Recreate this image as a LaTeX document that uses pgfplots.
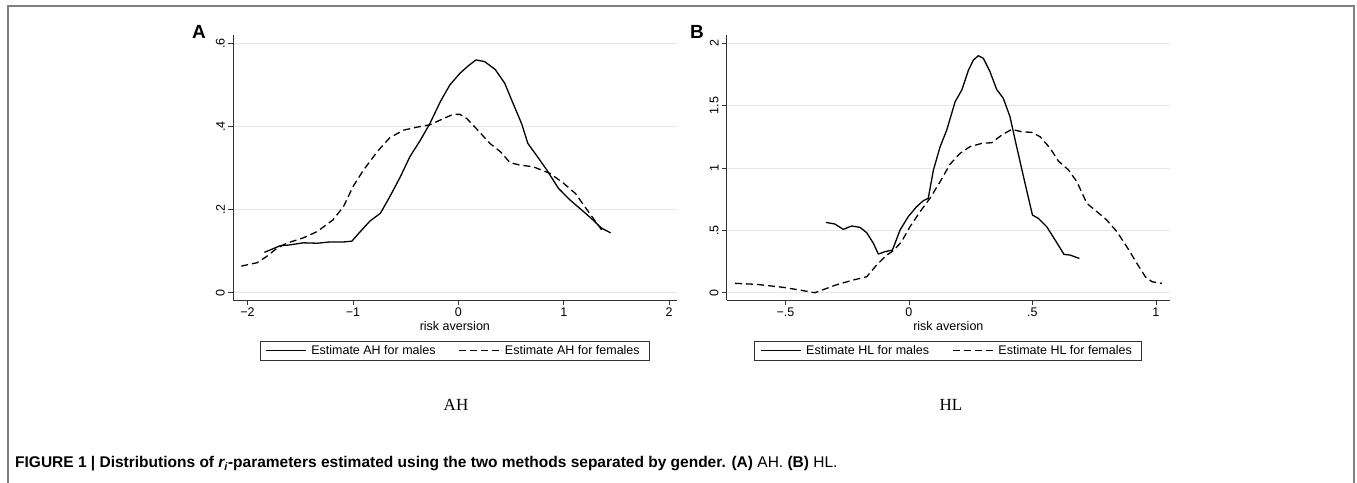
\documentclass[border=0pt]{standalone}
\usepackage{fontspec}
\setmainfont{Liberation Sans}
\newfontfamily\timesfont{Liberation Serif}
\usepackage{pgfplots}
\pgfplotsset{compat=1.18}
\definecolor{gridc}{HTML}{E6E6E6}
\definecolor{axc}{HTML}{333333}
\definecolor{framec}{HTML}{7F7F7F}

\pgfplotsset{
  stata/.style={
    scale only axis,
    axis x line*=bottom, axis y line*=left,
    axis line style={-, draw=axc, line width=0.9pt},
    tick align=outside, major tick length=5pt,
    tick style={draw=axc, line width=0.8pt},
    ymajorgrids, grid style={draw=gridc, line width=1pt},
    ticklabel style={font=\fontsize{12.5}{15}\selectfont},
    yticklabel style={rotate=90, anchor=south, inner sep=3pt},
    xticklabel style={inner sep=2pt, yshift=-1pt},
    xlabel={risk aversion},
    xlabel style={font=\fontsize{12.5}{15}\selectfont, inner sep=0pt, yshift=-2pt},
    legend columns=2,
    legend style={at={(0.5,-0.1547)}, anchor=north, draw=axc, line width=0.8pt,
      font=\fontsize{12.5}{15}\selectfont, inner xsep=5pt, inner ysep=2pt,
      /tikz/every even column/.append style={column sep=18pt},
      nodes={inner xsep=5pt}},
    legend image code/.code={\draw[#1] (0pt,0pt) -- (40pt,0pt);},
  },
  male/.style={black, no marks, line width=1.3pt, line join=round},
  fem/.style={black, no marks, line width=1.3pt, line join=round, dash pattern=on 7pt off 4pt},
}

\begin{document}
\begin{tikzpicture}[x=1pt,y=1pt]
\path[use as bounding box] (0,0) rectangle (1357,482);
\draw[framec, line width=1.3pt] (8,-2) -- (8,476) -- (1354,476) -- (1354,-2);

% Panel A
\begin{axis}[stata, at={(233pt,182pt)}, anchor=south west,
  width=443.7pt, height=265pt,
  xmin=-2.138, xmax=2.072, ymin=-0.0176, ymax=0.62,
  xtick={-2,-1,0,1,2}, xticklabels={−2,−1,0,1,2},
  ytick={0,0.2,0.4,0.6}, yticklabels={0,.2,.4,.6}]
\addplot[male] coordinates {
(-1.84,0.097) (-1.69,0.113) (-1.60,0.115) (-1.47,0.120) (-1.34,0.119)
(-1.22,0.122) (-1.09,0.122) (-1.01,0.124) (-0.93,0.147) (-0.84,0.172)
(-0.74,0.191) (-0.65,0.231) (-0.55,0.279) (-0.46,0.327) (-0.36,0.367)
(-0.27,0.407) (-0.17,0.460) (-0.08,0.500) (0.016,0.528) (0.095,0.546)
(0.168,0.560) (0.25,0.556) (0.35,0.537) (0.44,0.504) (0.52,0.455)
(0.60,0.407) (0.66,0.359) (0.74,0.331) (0.84,0.295) (0.95,0.251)
(1.06,0.223) (1.17,0.199) (1.26,0.179) (1.36,0.155) (1.445,0.144)
};
\addlegendentry{Estimate AH for males}
\addplot[fem] coordinates {
(-2.06,0.064) (-1.91,0.072) (-1.82,0.087) (-1.72,0.107) (-1.63,0.119)
(-1.47,0.132) (-1.34,0.147) (-1.19,0.175) (-1.09,0.207) (-1.00,0.255)
(-0.90,0.295) (-0.77,0.339) (-0.65,0.373) (-0.52,0.391) (-0.40,0.398)
(-0.27,0.404) (-0.14,0.419) (-0.05,0.429) (0.016,0.429) (0.08,0.419)
(0.17,0.395) (0.30,0.359) (0.40,0.339) (0.49,0.313) (0.585,0.307)
(0.71,0.303) (0.87,0.287) (1.00,0.263) (1.11,0.239) (1.20,0.207)
(1.28,0.179) (1.36,0.151)
};
\addlegendentry{Estimate AH for females}
\end{axis}

% Panel B
\begin{axis}[stata, at={(726.7pt,182pt)}, anchor=south west,
  width=443.3pt, height=265pt,
  xmin=-0.738, xmax=1.057, ymin=-0.0585, ymax=2.067,
  xtick={-0.5,0,0.5,1}, xticklabels={−.5,0,.5,1},
  ytick={0,0.5,1,1.5,2}, yticklabels={0,.5,1,1.5,2}]
\addplot[male] coordinates {
(-0.336,0.564) (-0.30,0.551) (-0.266,0.508) (-0.232,0.535) (-0.198,0.524)
(-0.171,0.481) (-0.144,0.396) (-0.124,0.310) (-0.097,0.329) (-0.067,0.342)
(-0.036,0.503) (-0.003,0.610) (0.031,0.690) (0.058,0.738) (0.078,0.757)
(0.099,0.984) (0.126,1.17) (0.153,1.305) (0.187,1.532) (0.214,1.626)
(0.241,1.786) (0.261,1.866) (0.281,1.901) (0.301,1.880) (0.328,1.773)
(0.355,1.631) (0.382,1.559) (0.409,1.412) (0.436,1.171) (0.470,0.877)
(0.500,0.623) (0.524,0.596) (0.558,0.529) (0.592,0.422) (0.628,0.307)
(0.652,0.302) (0.69,0.275)
};
\addlegendentry{Estimate HL for males}
\addplot[fem] coordinates {
(-0.704,0.075) (-0.617,0.067) (-0.509,0.043) (-0.441,0.021) (-0.381,0.0)
(-0.293,0.064) (-0.225,0.102) (-0.171,0.128) (-0.131,0.222) (-0.090,0.302)
(-0.063,0.337) (-0.030,0.409) (0.004,0.529) (0.045,0.650) (0.085,0.757)
(0.126,0.890) (0.166,1.030) (0.207,1.118) (0.247,1.171) (0.295,1.198)
(0.335,1.203) (0.376,1.265) (0.416,1.310) (0.457,1.291) (0.497,1.286)
(0.531,1.251) (0.572,1.158) (0.605,1.056) (0.646,0.984) (0.680,0.890)
(0.720,0.717) (0.761,0.650) (0.801,0.583) (0.842,0.489) (0.882,0.369)
(0.923,0.235) (0.957,0.128) (0.984,0.088) (1.024,0.075)
};
\addlegendentry{Estimate HL for females}
\end{axis}

\node[font=\bfseries\fontsize{19}{22}\selectfont] at (199,450.5) {A};
\node[font=\bfseries\fontsize{19}{22}\selectfont] at (697,450.5) {B};
\node[font=\timesfont\fontsize{17}{20}\selectfont] at (456,77) {AH};
\node[font=\timesfont\fontsize{17}{20}\selectfont] at (951,77) {HL};
\node[anchor=base west, inner sep=0pt, font=\fontsize{15.5}{18}\selectfont] at (15,14.5)
  {\textbf{FIGURE 1 | Distributions of \textit{r\textsubscript{i}}-parameters estimated using the two methods separated by gender. (A)} AH. \textbf{(B)} HL.};
\end{tikzpicture}
\end{document}
